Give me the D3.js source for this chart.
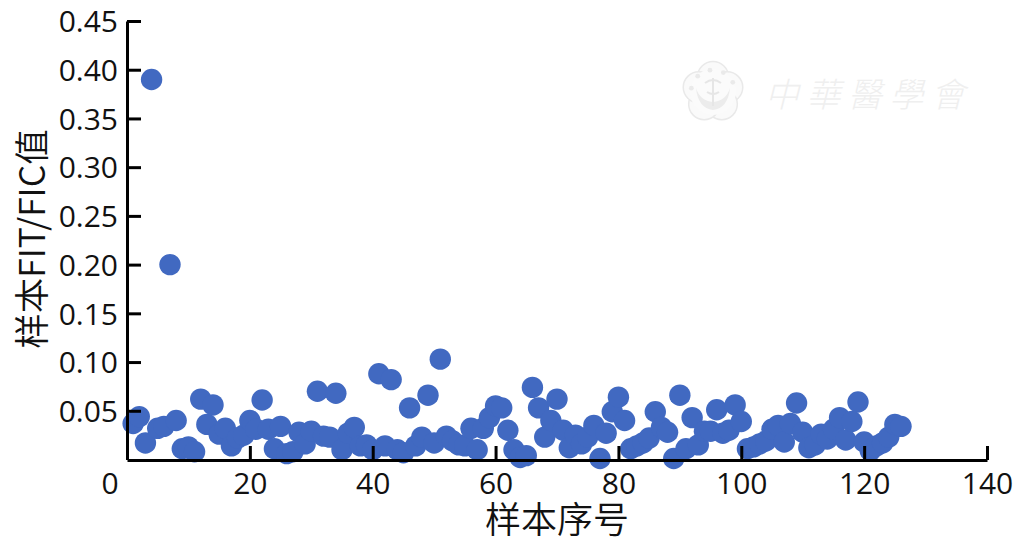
<!DOCTYPE html>
<html><head><meta charset="utf-8">
<script src="https://cdn.jsdelivr.net/npm/d3@7"></script>
<style>html,body{margin:0;padding:0;background:#fff}svg{display:block}text{font-family:"Noto Sans CJK SC","Noto Sans",sans-serif}</style>
</head><body><svg id="c" width="1023" height="546"></svg>
<script>
const xTicks=[20,40,60,80,100,120,140];
const yTicks=[0.05,0.10,0.15,0.20,0.25,0.30,0.35,0.40,0.45];
const xTitle="样本序号";
const yTitle="样本FIT/FIC值";
const watermark="中華醫學會";
const values=[.037,.044,.017,.39,.032,.034,.2,.04,.011,.013,.008,.062,.036,.056,.026,.032,.014,.022,.025,.04,
.031,.061,.031,.011,.034,.006,.008,.028,.016,.029,.07,.024,.023,.068,.01,.027,.033,.014,.015,.01,
.088,.014,.082,.01,.007,.053,.014,.023,.066,.017,.103,.024,.019,.015,.014,.032,.01,.032,.043,.055,
.053,.03,.01,.002,.004,.074,.053,.023,.04,.062,.03,.012,.025,.016,.023,.035,.001,.027,.049,.064,
.04,.011,.014,.017,.022,.049,.033,.028,.001,.066,.011,.043,.015,.029,.029,.051,.027,.03,.056,.039,
.011,.013,.016,.019,.031,.035,.018,.037,.058,.028,.012,.015,.026,.021,.031,.043,.02,.039,.059,.018,
.009,.014,.017,.023,.036,.034];
const svg=d3.select("#c");
const x=d3.scaleLinear().domain([0,140]).range([127,987]);
const y=d3.scaleLinear().domain([0,0.45]).range([459.5,21]);
const tickFont="'Open Sans'";
const tickSize=30;

// watermark
const wm=svg.append("g").attr("fill","none");
const ec="#e9e9e9";
wm.append("g").attr("transform","translate(713,92)").call(g=>{
  const lobes=d3.range(5).map(i=>{
    const a=(i*72-90)*Math.PI/180;
    return [15*Math.cos(a),15*Math.sin(a)];
  });
  g.selectAll("circle.o").data(lobes).join("circle").attr("class","o")
    .attr("cx",d=>d[0]).attr("cy",d=>d[1]).attr("r",15.5).attr("fill","#fafafa").attr("stroke",ec).attr("stroke-width",1.5);
  g.append("circle").attr("r",23).attr("fill","#fbfbfb");
  g.selectAll("circle.d").data(d3.range(5)).join("circle").attr("class","d")
    .attr("cx",i=>22*Math.cos((i*36-170)*Math.PI/180)).attr("cy",i=>22*Math.sin((i*36-170)*Math.PI/180))
    .attr("r",2.4).attr("fill","#eaeaea");
  g.append("path").attr("d","M-17,-4Q-15,16 0,18Q15,16 17,-4Q13,9 0,10Q-13,9 -17,-4Z").attr("fill","#ececec");
  g.append("path").attr("d","M0,-14V14M-8,-9Q0,-15 8,-9M-6,0Q0,4 6,0").attr("stroke","#e6e6e6").attr("stroke-width",2);
});
wm.selectAll("text.w").data(Array.from(watermark)).join("text").attr("class","w")
  .attr("x",(d,i)=>782+i*41.5).attr("y",107).attr("text-anchor","middle")
  .attr("transform",`skewX(-14) translate(${107*Math.tan(14*Math.PI/180)},0)`)
  .attr("font-size",34).attr("font-weight",300).attr("fill","#efefef").style("font-family","'Noto Sans CJK TC'").text(d=>d);

// points
svg.append("g").selectAll("circle").data(values).join("circle")
  .attr("cx",(d,i)=>x(i+1)).attr("cy",d=>y(d)).attr("r",10.7).attr("fill","#4169c1");

// axes
const gx=svg.append("g").attr("transform","translate(0,460)")
  .call(d3.axisBottom(x).tickValues(xTicks).tickSizeInner(-14).tickSizeOuter(0));
const gy=svg.append("g").attr("transform","translate(127,0)")
  .call(d3.axisLeft(y).tickValues(yTicks).tickFormat(d3.format(".2f")).tickSizeInner(-14).tickSizeOuter(0).tickPadding(9));
[gx,gy].forEach(g=>{
  g.selectAll(".domain,line").attr("stroke","#000").attr("stroke-width",3);
  g.selectAll("text").attr("font-size",tickSize).attr("fill","#111").style("font-family",tickFont);
});
gx.selectAll("text").attr("dy",null).attr("y",34);
gy.selectAll("text").attr("dy","0.36em");
svg.append("text").attr("x",110).attr("y",494).attr("text-anchor","middle").attr("font-size",tickSize).attr("fill","#111").style("font-family",tickFont).text("0");
svg.append("text").attr("x",557).attr("y",533).attr("text-anchor","middle").attr("font-size",36).attr("font-weight",350).attr("fill","#111").text(xTitle);
svg.append("text").attr("transform","translate(45,239) rotate(-90)").attr("text-anchor","middle").attr("font-size",35.5).attr("font-weight",350).attr("fill","#111").text(yTitle);
</script></body></html>
